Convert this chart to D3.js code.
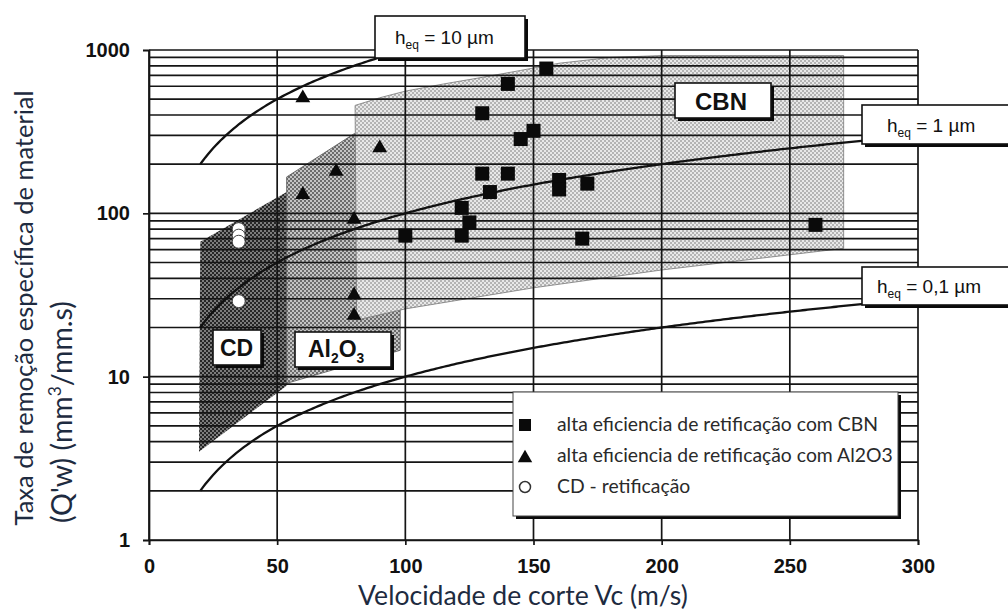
<!DOCTYPE html>
<html><head><meta charset="utf-8">
<script src="https://cdn.jsdelivr.net/npm/d3@7"></script>
<style>body{margin:0;background:#fff}svg{display:block}</style>
</head><body>
<svg id="c" width="1008" height="611"></svg>
<script>
// ---------- data ----------
const vcTicks = [0, 50, 100, 150, 200, 250, 300];
const qTicks = [1, 10, 100, 1000];
const cbnV = [155, 140, 130, 145, 150, 130, 140, 133, 160, 160, 171, 122, 125, 122, 100, 169, 260];
const cbnQ = [770, 620, 410, 285, 320, 175, 175, 135, 160, 140, 152, 108, 88, 73, 73, 70, 85];
const alV = [60, 90, 73, 60, 80, 80, 80];
const alQ = [515, 255, 183, 132, 93, 32, 24];
const cdV = [35, 35, 35, 35];
const cdQ = [80, 73, 67, 29];
const hEq = [10, 1, 0.1];
const hEqStart = [20, 20, 20];
const hEqEnd = [100, 280, 280];
const regionCD = [[20, 67], [53.7, 135], [53.7, 8.8], [19.5, 3.47]];
const regionAl = [[53.7, 167], [80, 307], [98, 400], [98, 14.5], [53.7, 9.1]];
const regionCBN = [[80.4, 458], [90, 510], [100, 560], [115, 620], [130, 680], [145, 750], [160, 830], [180, 900], [200, 925], [271, 925], [271, 61], [200, 45], [150, 35], [100, 26], [81, 22.2]];
const legendLabels = ["alta eficiencia de retificação com CBN", "alta eficiencia de retificação com Al2O3", "CD - retificação"];
const xTitle = "Velocidade de corte Vc (m/s)";
const yTitle1 = "Taxa de remoção específica de material";

// ---------- layout ----------
const svg = d3.select("#c");
const L = 149, R = 918, T = 50, B = 540;
const x = d3.scaleLinear().domain([0, 300]).range([L, R]);
const y = d3.scaleLog().domain([1, 1000]).range([B, T]);
const defs = svg.append("defs");

function checker(id, a, b) {
  const p = defs.append("pattern").attr("id", id).attr("patternUnits", "userSpaceOnUse")
    .attr("width", 4).attr("height", 4);
  p.append("rect").attr("width", 4).attr("height", 4).attr("fill", a);
  p.append("rect").attr("width", 2).attr("height", 2).attr("fill", b);
  p.append("rect").attr("x", 2).attr("y", 2).attr("width", 2).attr("height", 2).attr("fill", b);
}
checker("pCD", "#7c7c7c", "#262626");
checker("pAl", "#c4c4c4", "#6c6c6c");
checker("pCBN", "#e8e8e8", "#b4b4b4");

const poly = d3.line().x(d => x(d[0])).y(d => y(d[1]));
svg.append("path").attr("d", poly(regionCD) + "Z").attr("fill", "url(#pCD)");
svg.append("path").attr("d", poly(regionAl) + "Z").attr("fill", "url(#pAl)").attr("stroke", "#555").attr("stroke-width", 0.8);
svg.append("path").attr("d", poly(regionCBN) + "Z").attr("fill", "url(#pCBN)").attr("stroke", "#777").attr("stroke-width", 0.8);

// grid
const g = svg.append("g");
g.selectAll(".hg").data(y.ticks()).join("line")
  .attr("x1", L).attr("x2", R).attr("y1", d => y(d)).attr("y2", d => y(d))
  .attr("stroke", "#151515").attr("stroke-width", 1.7);
g.selectAll(".vg").data(vcTicks).join("line")
  .attr("x1", d => x(d)).attr("x2", d => x(d)).attr("y1", T).attr("y2", B)
  .attr("stroke", "#151515").attr("stroke-width", 1.7);

// axes
const ax = svg.append("g").attr("transform", `translate(0,${B})`)
  .call(d3.axisBottom(x).tickValues(vcTicks).tickSize(5).tickPadding(14).tickFormat(d3.format("d")));
const ay = svg.append("g").attr("transform", `translate(${L},0)`)
  .call(d3.axisLeft(y).tickValues(qTicks).tickSize(6).tickPadding(13).tickFormat(d3.format("d")));
[ax, ay].forEach(a => {
  a.select(".domain").attr("stroke", "#151515").attr("stroke-width", 1.7);
  a.selectAll(".tick line").attr("stroke", "#151515").attr("stroke-width", 1.7);
  a.selectAll("text").attr("font-family", "Liberation Sans, Arial, sans-serif")
    .attr("font-weight", "bold").attr("font-size", 20).attr("fill", "#111");
});

// h_eq curves
hEq.forEach((h, i) => {
  const vs = d3.range(hEqStart[i], hEqEnd[i] + 0.01, 1);
  svg.append("path").datum(vs.map(v => [v, h * v]))
    .attr("d", d3.line().x(d => x(d[0])).y(d => y(d[1])))
    .attr("fill", "none").attr("stroke", "#111").attr("stroke-width", 2.3);
});

// points
svg.selectAll(".sq").data(cbnV.map((v, i) => [v, cbnQ[i]])).join("rect")
  .attr("x", d => x(d[0]) - 7).attr("y", d => y(d[1]) - 7).attr("width", 14).attr("height", 14)
  .attr("fill", "#0a0a0a");
const tri = d3.symbol().type(d3.symbolTriangle).size(95);
svg.selectAll(".tr").data(alV.map((v, i) => [v, alQ[i]])).join("path")
  .attr("d", tri).attr("transform", d => `translate(${x(d[0])},${y(d[1]) + 1})`).attr("fill", "#0a0a0a");
svg.selectAll(".ci").data(cdV.map((v, i) => [v, cdQ[i]])).join("circle")
  .attr("cx", d => x(d[0])).attr("cy", d => y(d[1])).attr("r", 6.5)
  .attr("fill", "#fff").attr("stroke", "#444").attr("stroke-width", 1);

// boxes with shadow
function box(x0, y0, w, h, sh) {
  const gg = svg.append("g");
  gg.append("rect").attr("x", x0 + sh).attr("y", y0 + sh).attr("width", w).attr("height", h).attr("fill", "#0a0a0a");
  gg.append("rect").attr("x", x0).attr("y", y0).attr("width", w).attr("height", h)
    .attr("fill", "#fff").attr("stroke", "#111").attr("stroke-width", 1.6);
  return gg;
}
function heqLabel(gg, tx, ty, val) {
  const t = gg.append("text").attr("x", tx).attr("y", ty)
    .attr("font-family", "Liberation Sans, Arial, sans-serif").attr("font-size", 19).attr("fill", "#111");
  t.append("tspan").text("h");
  t.append("tspan").attr("font-size", 12).attr("dy", 5).text("eq");
  t.append("tspan").attr("dy", -5).text(" = " + val + " µm");
}
heqLabel(box(375, 16, 150, 42, 3), 395, 44, "10");
heqLabel(box(862, 105, 160, 39, 3), 887, 132, "1");
heqLabel(box(862, 267, 160, 38, 3), 877, 293, "0,1");

// parts: [text, isSub]
function boldLabel(x0, y0, w, h, parts, fs, tx, ty) {
  const gg = box(x0, y0, w, h, 3);
  const t = gg.append("text").attr("x", tx).attr("y", ty)
    .attr("font-family", "Liberation Sans, Arial, sans-serif").attr("font-weight", "bold")
    .attr("font-size", fs).attr("fill", "#111");
  let sub = false;
  parts.forEach(p => {
    const s = t.append("tspan").text(p[0]);
    const wantSub = !!p[1];
    if (wantSub) s.attr("font-size", fs * 0.6);
    if (wantSub !== sub) s.attr("dy", wantSub ? 6 : -6);
    sub = wantSub;
  });
}
boldLabel(213, 330, 48, 35, [["CD"]], 23, 220, 356);
boldLabel(295, 332, 96, 35, [["Al"], ["2", true], ["O"], ["3", true]], 23, 308, 357);
boldLabel(675, 83, 96, 35, [["CBN"]], 24, 695, 110);

// legend
const lg = box(513, 392, 385, 124, 3);
lg.select("rect:nth-child(2)").attr("stroke", "#444").attr("stroke-width", 1);
lg.append("rect").attr("x", 519).attr("y", 419).attr("width", 12).attr("height", 12).attr("fill", "#0a0a0a");
lg.append("path").attr("d", d3.symbol().type(d3.symbolTriangle).size(90)).attr("transform", "translate(525,458)").attr("fill", "#0a0a0a");
lg.append("circle").attr("cx", 525).attr("cy", 487).attr("r", 5.5).attr("fill", "#fff").attr("stroke", "#333").attr("stroke-width", 1.5);
legendLabels.forEach((s, i) => {
  lg.append("text").attr("class", "lt").attr("x", 557).attr("y", 431 + i * 31)
    .attr("font-family", "Lato, 'Open Sans', sans-serif").attr("font-size", 16).attr("fill", "#2a2a2a").text(s);
});
const first = lg.select(".lt").node();
const fsL = 16 * 321 / first.getComputedTextLength();
lg.selectAll(".lt").attr("font-size", fsL);

// titles
const titleFont = "Lato, 'Open Sans', sans-serif";
const xt = svg.append("text").attr("x", 523).attr("y", 605).attr("text-anchor", "middle")
  .attr("font-family", titleFont).attr("font-size", 22).attr("fill", "#1e2b40").text(xTitle);
xt.attr("font-size", 22 * 330 / xt.node().getComputedTextLength());
const yt1 = svg.append("text").attr("transform", "translate(33,308) rotate(-90)").attr("text-anchor", "middle")
  .attr("font-family", titleFont).attr("font-size", 22).attr("fill", "#1e2b40").text(yTitle1);
yt1.attr("font-size", 22 * 435 / yt1.node().getComputedTextLength());
const yt2 = svg.append("text").attr("transform", "translate(72,412) rotate(-90)").attr("text-anchor", "middle")
  .attr("font-family", titleFont).attr("font-size", 23).attr("fill", "#1e2b40");
yt2.append("tspan").text("(Q'w)  (mm");
yt2.append("tspan").attr("font-size", 14).attr("dy", -9).text("3");
yt2.append("tspan").attr("dy", 9).text("/mm.s)");
const w2 = yt2.node().getComputedTextLength();
const k2 = 222 / w2;
yt2.attr("font-size", 23 * k2);
yt2.select("tspan:nth-child(2)").attr("font-size", 14 * k2).attr("dy", -9 * k2);
yt2.select("tspan:nth-child(3)").attr("dy", 9 * k2);
</script>
</body></html>
